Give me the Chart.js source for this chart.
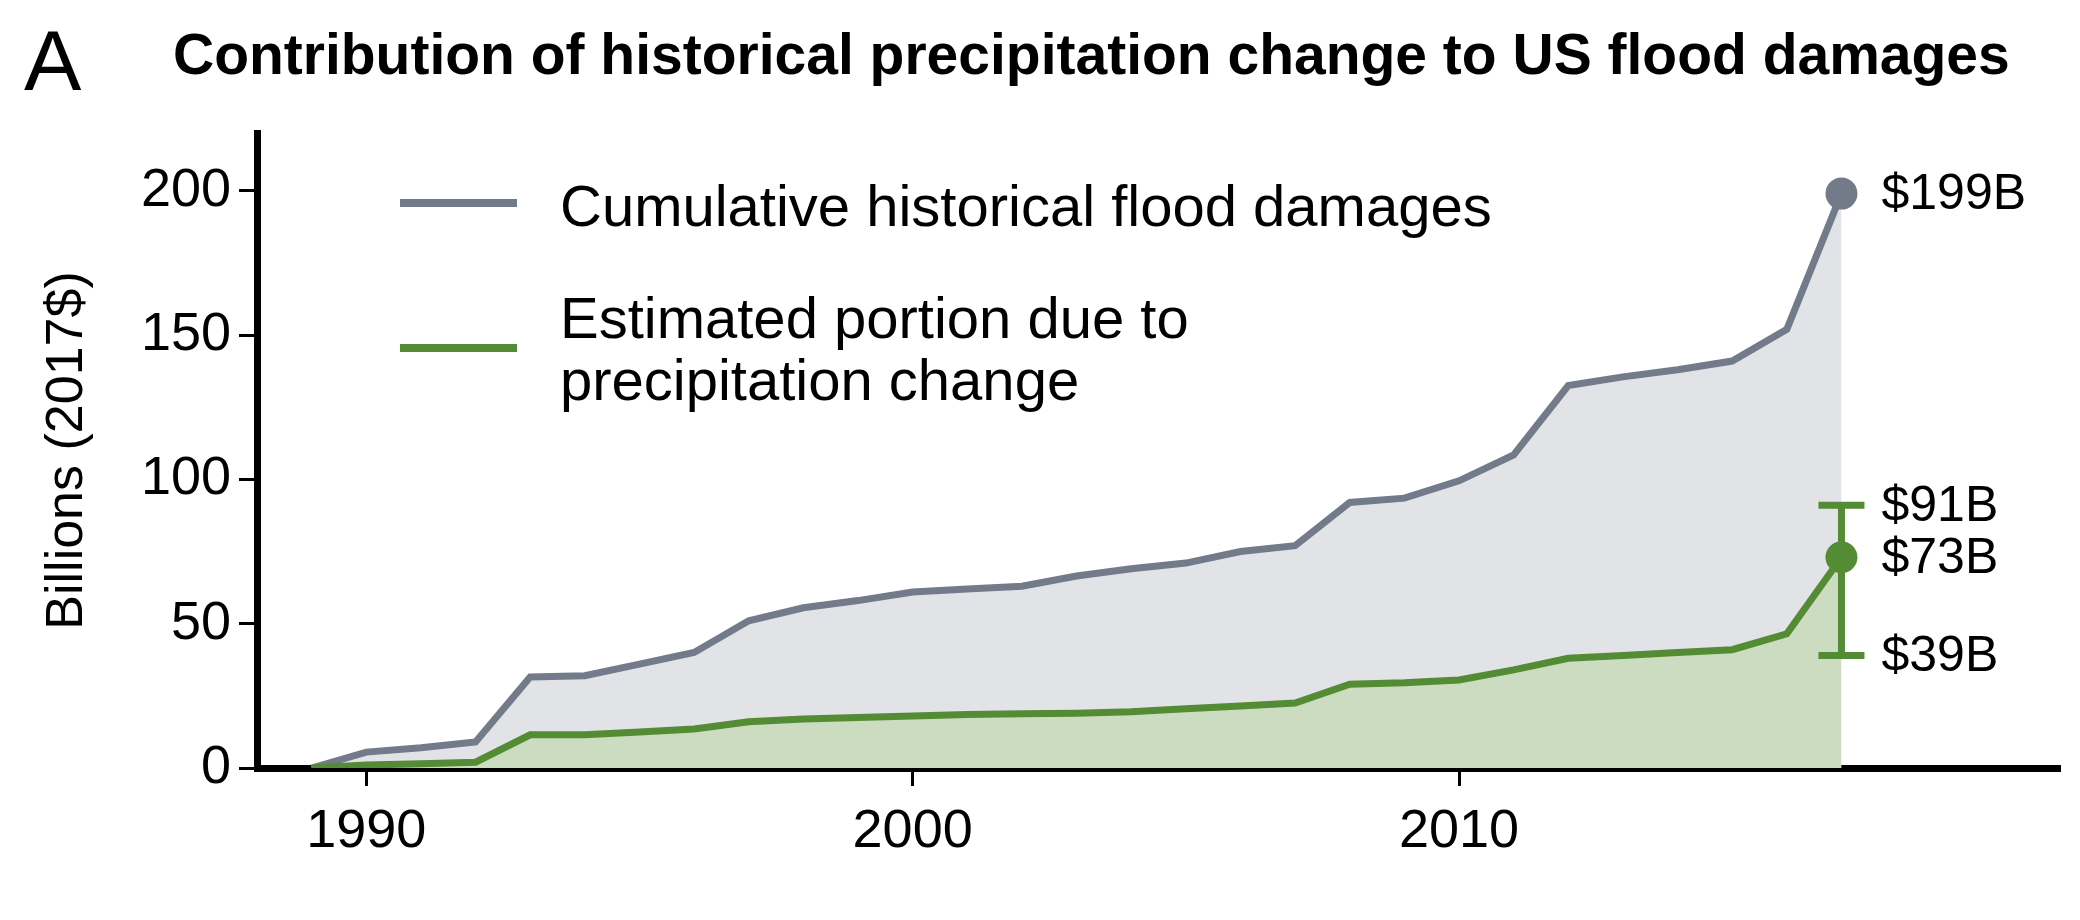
<!DOCTYPE html>
<html><head><meta charset="utf-8">
<script src="https://cdn.jsdelivr.net/npm/chart.js@4"></script>
<style>html,body{margin:0;padding:0;background:#fff}canvas{display:block}</style>
</head><body>
<canvas id="c" width="2080" height="920"></canvas>
<script>
const years = [1989,1990,1991,1992,1993,1994,1995,1996,1997,1998,1999,2000,2001,2002,2003,2004,2005,2006,2007,2008,2009,2010,2011,2012,2013,2014,2015,2016,2017];
const cumulativeDamages = [0,5.5,7,9,31.5,32,36,40,51,55.5,58,61,62,63,66.5,69,71,75,77,92,93.5,99.5,108.5,132.5,135.5,138,141,152,199];
const precipPortion = [0,1,1.5,2,11.5,11.5,12.5,13.5,16,17,17.5,18,18.5,18.8,19,19.5,20.5,21.5,22.5,29,29.5,30.5,34,38,39,40,41,46.5,73];
const errorBar = {year:2017, low:39, mid:73, high:91};
const endLabels = [{value:199,text:'$199B'},{value:91,text:'$91B'},{value:73,text:'$73B'},{value:39,text:'$39B'}];
const yTicks = [0,50,100,150,200];
const xTicks = [1990,2000,2010];
const FONT = '"Liberation Sans", Arial, sans-serif';
const GRAY = '#737b8a', GREEN = '#548b35';

const pts = arr => years.map((y,i)=>({x:y,y:arr[i]}));

const overlay = {
  id:'overlay',
  afterDatasetsDraw(chart){
    const ctx = chart.ctx, xs = chart.scales.x, ys = chart.scales.y;
    const ex = xs.getPixelForValue(errorBar.year);
    ctx.save();
    ctx.strokeStyle = GREEN; ctx.lineWidth = 7;
    ctx.beginPath();
    ctx.moveTo(ex, ys.getPixelForValue(errorBar.low)); ctx.lineTo(ex, ys.getPixelForValue(errorBar.high));
    for (const v of [errorBar.low, errorBar.high]) { const p = ys.getPixelForValue(v); ctx.moveTo(ex-23,p); ctx.lineTo(ex+23,p); }
    ctx.stroke();
    ctx.fillStyle = GREEN; ctx.beginPath(); ctx.arc(ex, ys.getPixelForValue(errorBar.mid), 16, 0, Math.PI*2); ctx.fill();
    ctx.fillStyle = GRAY; ctx.beginPath(); ctx.arc(ex, ys.getPixelForValue(cumulativeDamages[cumulativeDamages.length-1]), 16, 0, Math.PI*2); ctx.fill();
    ctx.fillStyle = '#000'; ctx.font = '50px '+FONT; ctx.textBaseline = 'middle'; ctx.textAlign='left';
    for (const l of endLabels) ctx.fillText(l.text, ex+40, ys.getPixelForValue(l.value)+2);
    ctx.textBaseline = 'alphabetic';
    ctx.font = '86px '+FONT; ctx.fillText('A', 24, 90);
    ctx.font = 'bold 57px '+FONT; ctx.fillText('Contribution of historical precipitation change to US flood damages', 173, 74);
    ctx.lineWidth = 8;
    ctx.strokeStyle = GRAY; ctx.beginPath(); ctx.moveTo(400,203); ctx.lineTo(517,203); ctx.stroke();
    ctx.strokeStyle = GREEN; ctx.beginPath(); ctx.moveTo(400,348); ctx.lineTo(517,348); ctx.stroke();
    ctx.font = '58px '+FONT;
    ctx.fillText('Cumulative historical flood damages', 560, 226);
    ctx.fillText('Estimated portion due to', 560, 338);
    ctx.fillText('precipitation change', 560, 400);
    ctx.restore();
  }
};

new Chart(document.getElementById('c'), {
  type:'line',
  data:{datasets:[
    {data:pts(precipPortion), borderColor:GREEN, backgroundColor:'#ccdcc0', fill:'origin', borderWidth:7, pointRadius:0, tension:0},
    {data:pts(cumulativeDamages), borderColor:GRAY, backgroundColor:'#e2e3e7', fill:'origin', borderWidth:7, pointRadius:0, tension:0}
  ]},
  options:{
    responsive:false, devicePixelRatio:1, animation:false,
    layout:{padding:{top:133, right:20, left:36, bottom:0}},
    plugins:{legend:{display:false}, tooltip:{enabled:false}},
    scales:{
      x:{type:'linear', min:1988, max:2021,
        afterBuildTicks: s => { s.ticks = xTicks.map(v=>({value:v})); },
        afterFit: s => { s.height = 152; },
        border:{display:true,color:'#000',width:7},
        grid:{drawOnChartArea:false, tickLength:18, tickWidth:3, color:'#000'},
        ticks:{color:'#000', font:{family:FONT,size:54}, padding:14, callback:v=>String(v)}},
      y:{min:0, max:220,
        afterBuildTicks: s => { s.ticks = yTicks.map(v=>({value:v})); },
        afterFit: s => { s.width = 221; },
        border:{display:true,color:'#000',width:7},
        grid:{drawOnChartArea:false, tickLength:18, tickWidth:3, color:'#000'},
        ticks:{color:'#000', font:{family:FONT,size:54}, padding:8},
        title:{display:true, text:'Billions (2017$)', color:'#000', font:{family:FONT,size:52}, padding:{top:0,bottom:10}}}
    }
  },
  plugins:[overlay]
});
</script>
</body></html>
